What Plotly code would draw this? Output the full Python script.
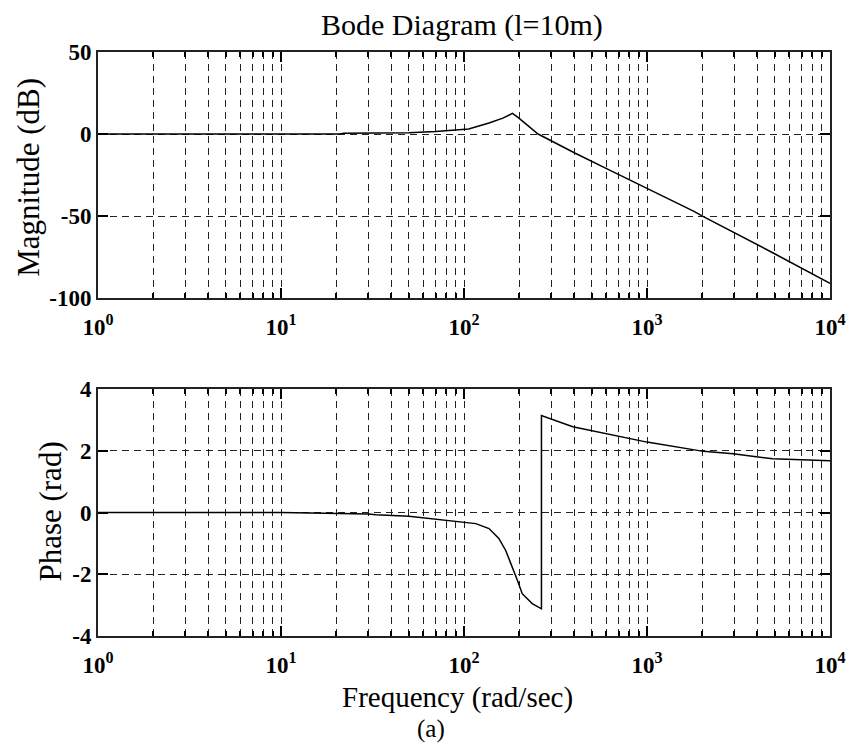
import plotly.graph_objects as go

# ---- data ----
w_mag = [1, 21, 22, 50, 70, 106, 137, 163, 184, 198, 254, 314, 403, 586, 963, 1795, 2033, 2952, 4980, 10000]
mag_db = [0, 0, 0.5, 0.8, 1.5, 3.0, 6.7, 9.7, 12.6, 10.0, 0.0, -5.5, -11.6, -20.5, -32.2, -47.0, -50.4, -59.6, -73.0, -91.0]

w_ph = [1, 10, 30, 33, 50, 66, 99, 116, 137, 155, 169, 184, 196, 208, 236, 265, 265, 393, 586, 1000, 2033, 2952, 4860, 10000]
phase_rad = [0, 0, -0.05, -0.07, -0.12, -0.2, -0.31, -0.36, -0.52, -0.84, -1.23, -1.77, -2.2, -2.63, -2.95, -3.12, 3.14, 2.78, 2.57, 2.28, 1.98, 1.90, 1.74, 1.68]

decades = [1, 10, 100, 1000, 10000]
decade_labels = ["10<sup>0</sup>", "10<sup>1</sup>", "10<sup>2</sup>", "10<sup>3</sup>", "10<sup>4</sup>"]
minor_vals = [m * d for d in [1, 10, 100, 1000] for m in range(2, 10)]
mag_ticks = [-100, -50, 0, 50]
mag_labels = ["-100", "-50", "0", "50"]
phase_ticks = [-4, -2, 0, 2, 4]
phase_labels = ["-4", "-2", "0", "2", "4"]

title_text = "Bode Diagram (l=10m)"
ylabel_mag = "Magnitude (dB)"
ylabel_ph = "Phase (rad)"
xlabel = "Frequency (rad/sec)"
caption = "(a)"

# ---- layout geometry (pixels) ----
W, H = 858, 745
L, R, T, B = 98, 19, 52, 109
plot_h = H - T - B
plot_w = W - L - R


def px(x):
    return (x - L) / plot_w


def py(y):
    return (H - B - y) / plot_h


FONT = "Liberation Serif"
GRID = "#222222"
DASH = "7px,5px"

fig = go.Figure()
fig.add_trace(go.Scatter(x=w_mag, y=mag_db, mode="lines", line=dict(color="black", width=1.5),
                         xaxis="x", yaxis="y", showlegend=False, hoverinfo="skip"))
fig.add_trace(go.Scatter(x=w_ph, y=phase_rad, mode="lines", line=dict(color="black", width=1.5),
                         xaxis="x2", yaxis="y2", showlegend=False, hoverinfo="skip"))

xcommon = dict(
    type="log", range=[0, 4], tickmode="array", tickvals=decades, ticktext=decade_labels,
    ticks="inside", ticklen=10, tickwidth=1.5, tickcolor="black",
    showgrid=True, gridcolor=GRID, griddash=DASH, gridwidth=1,
    minor=dict(tickmode="array", tickvals=minor_vals, ticks="inside", ticklen=5,
               tickcolor="black", showgrid=True, gridcolor=GRID, griddash=DASH, gridwidth=1),
    showline=True, linecolor="#222222", linewidth=2, mirror="ticks",
    tickfont=dict(family=FONT, size=23, color="black", weight="bold"),
    ticklabelstandoff=7,
    zeroline=False, fixedrange=True,
)
ycommon = dict(
    tickmode="array", ticks="inside", ticklen=10, tickwidth=1.5, tickcolor="black",
    showgrid=True, gridcolor=GRID, griddash=DASH, gridwidth=1,
    showline=True, linecolor="#222222", linewidth=2, mirror="ticks",
    tickfont=dict(family=FONT, size=23, color="black", weight="bold"),
    zeroline=False, fixedrange=True,
)

top_dom = [py(298), 1.0]
bot_dom = [0.0, py(389)]

fig.update_layout(
    width=W, height=H,
    margin=dict(l=L, r=R, t=T, b=B),
    paper_bgcolor="white", plot_bgcolor="white",
    xaxis=dict(**xcommon, anchor="y", domain=[0, 1]),
    yaxis=dict(**ycommon, anchor="x", domain=top_dom, range=[-100, 50],
               tickvals=mag_ticks, ticktext=mag_labels),
    xaxis2=dict(**xcommon, anchor="y2", domain=[0, 1]),
    yaxis2=dict(**ycommon, anchor="x2", domain=bot_dom, range=[-4, 4],
                tickvals=phase_ticks, ticktext=phase_labels),
    showlegend=False,
)

ann_font = dict(family=FONT, size=31, color="black")
fig.add_annotation(text=title_text, xref="paper", yref="paper", x=px(466), y=py(25),
                   xanchor="center", yanchor="middle", showarrow=False,
                   font=dict(family=FONT, size=30, color="black"))
fig.add_annotation(text=ylabel_mag, xref="paper", yref="paper", x=px(27), y=py(177),
                   xanchor="center", yanchor="middle", textangle=-90, showarrow=False, font=ann_font)
fig.add_annotation(text=ylabel_ph, xref="paper", yref="paper", x=px(49), y=py(512),
                   xanchor="center", yanchor="middle", textangle=-90, showarrow=False, font=ann_font)
fig.add_annotation(text=xlabel, xref="paper", yref="paper", x=px(462), y=py(697),
                   xanchor="center", yanchor="middle", showarrow=False,
                   font=dict(family=FONT, size=29, color="black"))
fig.add_annotation(text=caption, xref="paper", yref="paper", x=px(435), y=py(729),
                   xanchor="center", yanchor="middle", showarrow=False,
                   font=dict(family=FONT, size=25, color="black"))

fig.write_html("out.html")
